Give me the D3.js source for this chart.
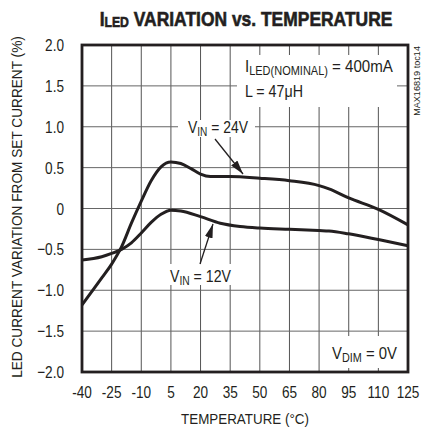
<!DOCTYPE html>
<html>
<head>
<meta charset="utf-8">
<script src="https://cdn.jsdelivr.net/npm/d3@7"></script>
<style>
  body { margin: 0; background: #fff; }
  text { font-family: "Liberation Sans", Arial, sans-serif; fill: #231f20; }
</style>
</head>
<body>
<svg id="chart"></svg>
<script>
// temperature (°C) and current variation (%)
var temps24 = [-40, -30, -25, -20, -15, -10, -5, 0, 5, 10, 15, 20, 25, 35, 50, 65, 80, 85, 95, 110, 125];
var vin24 = [-1.18, -0.85, -0.68, -0.47, -0.18, 0.09, 0.34, 0.51, 0.57, 0.55, 0.49, 0.42, 0.39, 0.39, 0.37, 0.34, 0.28, 0.24, 0.13, -0.01, -0.20];
var temps12 = [-40, -30, -25, -20, -15, -10, -5, 0, 5, 10, 20, 30, 40, 50, 65, 80, 85, 95, 110, 125];
var vin12 = [-0.63, -0.59, -0.55, -0.50, -0.42, -0.30, -0.17, -0.07, -0.02, -0.03, -0.10, -0.18, -0.22, -0.24, -0.255, -0.27, -0.275, -0.31, -0.38, -0.455];
var xTicks = [-40, -25, -10, 5, 20, 35, 50, 65, 80, 95, 110, 125];
var yTicks = [-2.0, -1.5, -1.0, -0.5, 0, 0.5, 1.0, 1.5, 2.0];

var W = 422, H = 430;
var margin = {top: 45, right: 14, bottom: 58, left: 82};
var width = W - margin.left - margin.right,
    height = H - margin.top - margin.bottom;

var svg = d3.select("#chart").attr("width", W).attr("height", H);

// narrow text: draw at (x,y), squeeze horizontally to a scale or a target width
function label(parent, x0, y0, rot, size, anchor) {
  var t = parent.append("text").attr("text-anchor", anchor || "start").style("font-size", size + "px");
  t.node().__pos = [x0, y0, rot || 0];
  return t;
}
function squeeze(t, s, target) {
  var p = t.node().__pos;
  if (target) s = target / t.node().getBBox().width;
  t.attr("transform", "translate(" + p[0] + "," + p[1] + ") rotate(" + p[2] + ") scale(" + s + ",1)");
}

// title
var title = label(svg, 246, 26, 0, 20, "middle").style("font-weight", "bold")
  .style("stroke", "#231f20").style("stroke-width", "0.6px");
title.append("tspan").text("I");
title.append("tspan").text("LED").style("font-size", "14px").attr("dy", 1);
title.append("tspan").text(" VARIATION vs. TEMPERATURE").attr("dy", -1);
squeeze(title, 1, 293);

var g = svg.append("g").attr("transform", "translate(" + margin.left + "," + margin.top + ")");

var x = d3.scaleLinear().domain([-40, 125]).range([0, width]);
var y = d3.scaleLinear().domain([-2, 2]).range([height, 0]);

// grid
g.append("g").selectAll("line").data(xTicks).join("line")
  .attr("x1", d => x(d)).attr("x2", d => x(d))
  .attr("y1", 0).attr("y2", height)
  .attr("stroke", "#555").attr("stroke-width", 1);
g.append("g").selectAll("line").data(yTicks).join("line")
  .attr("x1", 0).attr("x2", width)
  .attr("y1", d => y(d)).attr("y2", d => y(d))
  .attr("stroke", "#666").attr("stroke-width", 1);

// tick labels
yTicks.forEach(function(d) {
  var t = label(svg, 64, margin.top + y(d) + 6, 0, 17, "end").text(d === 0 ? "0" : d3.format(".1f")(d));
  squeeze(t, 0.8);
});
xTicks.forEach(function(d) {
  var t = label(svg, margin.left + x(d), 398, 0, 17, "middle").text(d);
  squeeze(t, 0.8);
});

// axis titles
var xt = label(svg, margin.left + width / 2, 424, 0, 15.5, "middle").text("TEMPERATURE (°C)");
squeeze(xt, 1, 128);
var yt = label(svg, 21.5, 207, -90, 14.5, "middle").text("LED CURRENT VARIATION FROM SET CURRENT (%)");
squeeze(yt, 1, 342);
var tag = label(svg, 420, 46, -90, 9.5, "end").text("MAX16819 toc14");
squeeze(tag, 1, 70);

// white label boxes (px inside plot)
[[155, 10, 160, 52], [96, 75, 77, 17], [85, 219, 68, 21], [243, 291, 75, 32]].forEach(function(b) {
  g.append("rect").attr("x", b[0]).attr("y", b[1]).attr("width", b[2]).attr("height", b[3]).attr("fill", "#fff");
});

// curves
var line = d3.line().x(d => x(d[0])).y(d => y(d[1])).curve(d3.curveMonotoneX);
g.append("path").datum(d3.zip(temps24, vin24)).attr("d", line)
  .attr("fill", "none").attr("stroke", "#231f20").attr("stroke-width", 3);
g.append("path").datum(d3.zip(temps12, vin12)).attr("d", line)
  .attr("fill", "none").attr("stroke", "#231f20").attr("stroke-width", 3);

// frame
g.append("rect").attr("width", width).attr("height", height)
  .attr("fill", "none").attr("stroke", "#231f20").attr("stroke-width", 2.8);

// arrows
svg.append("defs").append("marker")
  .attr("id", "arr").attr("viewBox", "0 0 14 8").attr("refX", 14).attr("refY", 4)
  .attr("markerWidth", 14).attr("markerHeight", 8).attr("markerUnits", "userSpaceOnUse")
  .attr("orient", "auto")
  .append("path").attr("d", "M0,0 L14,4 L0,8 Z").attr("fill", "#231f20");
svg.append("line")
  .attr("x1", 215).attr("y1", 139).attr("x2", 243).attr("y2", 174)
  .attr("stroke", "#231f20").attr("stroke-width", 1.3).attr("marker-end", "url(#arr)");
svg.append("line")
  .attr("x1", 200).attr("y1", 264).attr("x2", 213).attr("y2", 224)
  .attr("stroke", "#231f20").attr("stroke-width", 1.3).attr("marker-end", "url(#arr)");

// annotations
function sub(x0, y0, main, s, rest, target) {
  var t = label(svg, x0, y0, 0, 16.5);
  t.append("tspan").text(main);
  t.append("tspan").text(s).style("font-size", "12px").attr("dy", 3);
  t.append("tspan").text(rest).attr("dy", -3);
  squeeze(t, 1, target);
  return t;
}
sub(188, 133, "V", "IN", " = 24V", 60);
sub(170, 282, "V", "IN", " = 12V", 61);
sub(332, 359, "V", "DIM", " = 0V", 65);
sub(245, 72, "I", "LED(NOMINAL)", " = 400mA", 148);
squeeze(label(svg, 245, 97, 0, 16.5).text("L = 47μH"), 1, 58);
</script>
</body>
</html>
